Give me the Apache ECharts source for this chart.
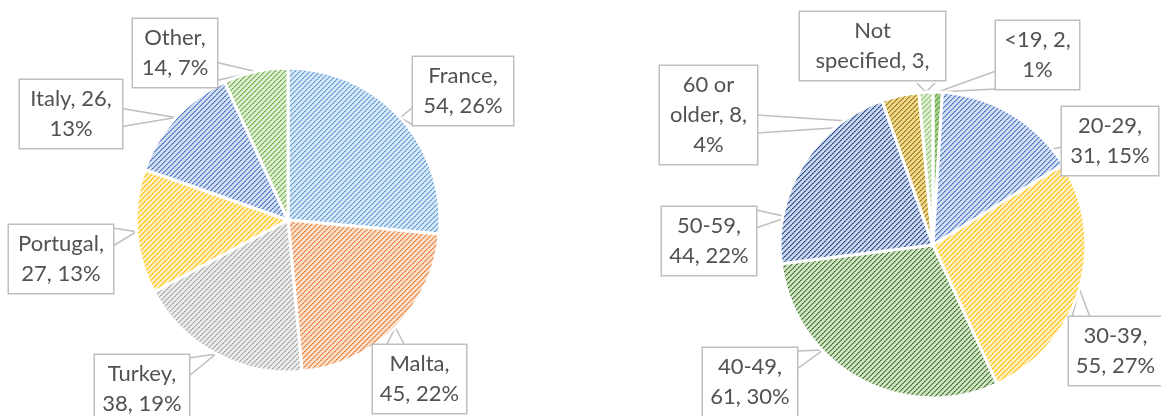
<!DOCTYPE html>
<html><head><meta charset="utf-8">
<script src="https://cdn.jsdelivr.net/npm/echarts@6/dist/echarts.min.js"></script>
<style>html,body{margin:0;padding:0;background:#fff}#c{width:1161px;height:416px}</style>
</head><body><div id="c"></div>
<script>
// ---- data ----
const countryNames = ['France', 'Malta', 'Turkey', 'Portugal', 'Italy', 'Other'];
const countryValues = [54, 45, 38, 27, 26, 14];
const ageNames = ['<19', '20-29', '30-39', '40-49', '50-59', '60 or older', 'Not specified'];
const ageValues = [2, 31, 55, 61, 44, 8, 3];
// word indices after which the callout text wraps (label formatting)
const countryBreaks = [[0], [0], [0], [0], [1], [0]];
const ageBreaks = [[1], [0], [0], [0], [0], [1, 3], [0, 2]];
const ageMaxLines = [3, 3, 3, 3, 3, 3, 2];

// ---- styles / layout ----
const countryColors = [
  ['#5B9BD5', '#D9E8F6'], ['#ED7D31', '#FAE0CE'], ['#A5A5A5', '#EBEBEB'],
  ['#FFC000', '#FFEFC2'], ['#4472C4', '#D5DFF2'], ['#70AD47', '#DDEED2']
];
const ageColors = [
  ['#5E9E3A', '#A9D18E'], ['#4472C4', '#D5DFF2'], ['#FFC000', '#FFEFC2'],
  ['#416F28', '#D0E5C5'], ['#264889', '#CAD7EE'], ['#9A770C', '#F0D88E'],
  ['#8CC06B', '#DDEED2']
];
// callout boxes [left, top, width] and optional callout tip [x, y]
const countryBoxes = [[413, 57, 100], [373, 345, 93], [95, 355, 94], [9, 225, 104], [20, 80, 102], [133, 19, 84]];
const ageBoxes = [[996, 21, 83], [1062, 107, 96, 1020, 156], [1069, 317, 93], [703, 348, 94, 823, 350],
                  [662, 207, 94, 788, 217], [660, 66, 97, 893, 124], [800, 12, 145]];

function makePattern(fg, bg) {
  const s = 10;
  const c = document.createElement('canvas');
  c.width = s; c.height = s;
  const ctx = c.getContext('2d');
  ctx.fillStyle = bg; ctx.fillRect(0, 0, s, s);
  ctx.fillStyle = fg;
  for (let y = 0; y < s; y++) for (let x = 0; x < s; x++) {
    const k = (x + y) % 5;
    if (k === 0) { ctx.globalAlpha = (x % 2 === 0) ? 1 : 0.75; ctx.fillRect(x, y, 1, 1); }
    else if (k === 1) { ctx.globalAlpha = (x % 2 === 0) ? 0.35 : 0.6; ctx.fillRect(x, y, 1, 1); }
  }
  ctx.globalAlpha = 1;
  return c;
}

function labelText(name, value, total, breaks, maxLines) {
  const pct = Math.round(value / total * 100);
  const words = (name + ', ' + value + ', ' + pct + '%').split(' ');
  const lines = [];
  let cur = [];
  words.forEach((w, i) => {
    cur.push(w);
    if (breaks.indexOf(i) >= 0) { lines.push(cur.join(' ')); cur = []; }
  });
  if (cur.length) lines.push(cur.join(' '));
  return lines.slice(0, maxLines || lines.length).join('\n');
}

function buildData(names, values, colors, breaks, boxes, maxLines) {
  const total = values.reduce((a, b) => a + b, 0);
  return names.map((n, i) => ({
    name: n, value: values[i],
    itemStyle: { color: { image: makePattern(colors[i][0], colors[i][1]), repeat: 'repeat' } },
    label: { width: boxes[i][2], overflow: 'none',
             formatter: labelText(n, values[i], total, breaks[i], maxLines ? maxLines[i] : 0) }
  }));
}

function calloutLayout(boxes) {
  return function (params) {
    const b = boxes[params.dataIndex];
    const bx = b[0], by = b[1], w = b[2], h = params.labelRect.height;
    let P = params.labelLinePoints ? params.labelLinePoints[0] : [bx, by];
    if (b.length > 3) P = [b[3], b[4]];
    const dx = P[0] < bx ? bx - P[0] : (P[0] > bx + w ? P[0] - bx - w : 0);
    const dy = P[1] < by ? by - P[1] : (P[1] > by + h ? P[1] - by - h : 0);
    let A, B;
    const hw = 9;
    if (dx >= dy) {
      const sx = P[0] < bx ? bx : bx + w;
      const cy = Math.min(Math.max(P[1], by + hw + 3), by + h - hw - 3);
      A = [sx, cy - hw]; B = [sx, cy + hw];
    } else {
      const sy = P[1] < by ? by : by + h;
      const cx = Math.min(Math.max(P[0], bx + hw + 3), bx + w - hw - 3);
      A = [cx - hw, sy]; B = [cx + hw, sy];
    }
    return {
      x: bx + w / 2, y: by, align: 'center', verticalAlign: 'top',
      labelLinePoints: [A, P, B]
    };
  };
}

const labelStyle = {
  show: true, position: 'outside',
  fontFamily: 'Lato, "Open Sans", sans-serif', fontSize: 22, lineHeight: 30,
  color: '#525252', backgroundColor: '#fff', borderColor: '#BFBFBF', borderWidth: 1.5,
  padding: [4, 0], align: 'center', overflow: 'none'
};
const lineStyle = { show: true, lineStyle: { color: '#BFBFBF', width: 1.5 }, length: 10, length2: 10 };

const chart = echarts.init(document.getElementById('c'), null, { renderer: 'canvas' });
chart.setOption({
  animation: false,
  backgroundColor: '#fff',
  series: [
    {
      type: 'pie', center: [288, 220], radius: 152, startAngle: 90, clockwise: true,
      avoidLabelOverlap: false,
      itemStyle: { borderColor: '#fff', borderWidth: 3 },
      label: labelStyle,
      labelLine: lineStyle,
      emphasis: { disabled: true },
      labelLayout: calloutLayout(countryBoxes),
      data: buildData(countryNames, countryValues, countryColors, countryBreaks, countryBoxes)
    },
    {
      type: 'pie', center: [933, 245], radius: 153, startAngle: 90, clockwise: true,
      avoidLabelOverlap: false,
      itemStyle: { borderColor: '#fff', borderWidth: 3 },
      label: labelStyle,
      labelLine: lineStyle,
      emphasis: { disabled: true },
      labelLayout: calloutLayout(ageBoxes),
      data: buildData(ageNames, ageValues, ageColors, ageBreaks, ageBoxes, ageMaxLines)
    }
  ]
});
</script></body></html>
